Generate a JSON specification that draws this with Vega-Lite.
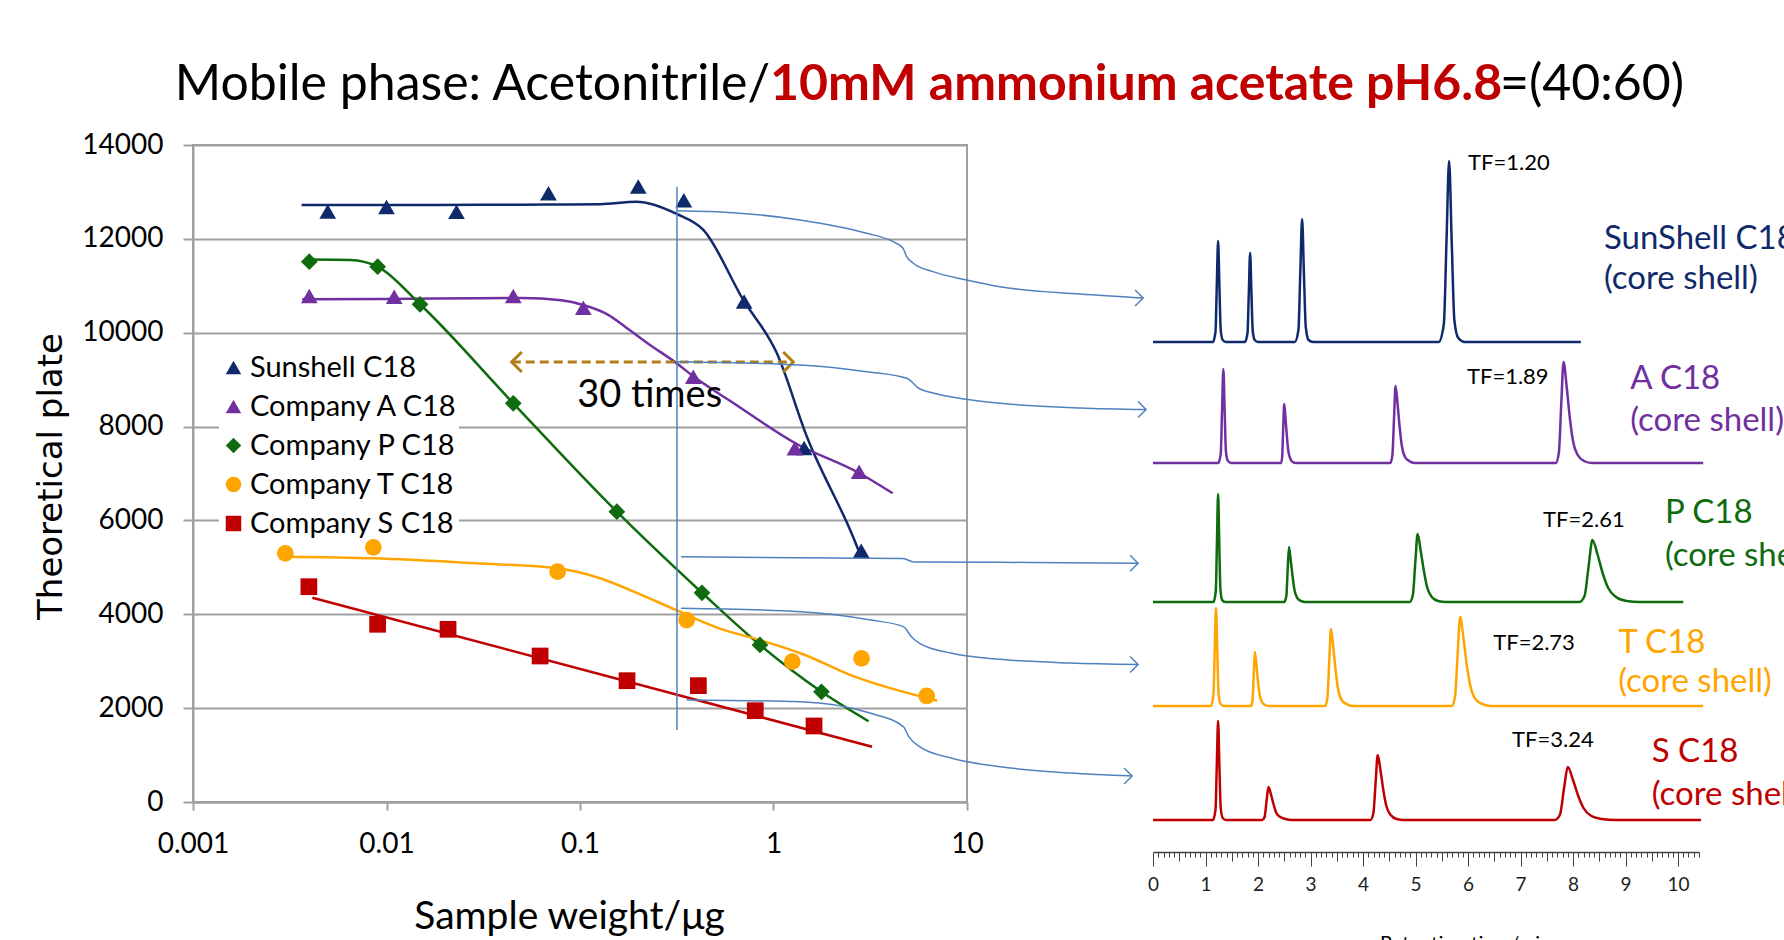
{
"$schema":"https://vega.github.io/schema/vega-lite/v6.json",
"width":774,"height":657,
"autosize":{"type":"none"},
"padding":{"left":193,"top":145,"right":817,"bottom":138},
"background":"white",
"config":{"view":{"stroke":"#a0a0a0","strokeWidth":2},"font":"Lato"},
"datasets":{
"pts":[
{"series":"Sunshell C18","w":0.00497,"n":12581},{"series":"Sunshell C18","w":0.01,"n":12677},{"series":"Sunshell C18","w":0.023,"n":12580},{"series":"Sunshell C18","w":0.0687,"n":12970},{"series":"Sunshell C18","w":0.2,"n":13114},{"series":"Sunshell C18","w":0.344,"n":12822},{"series":"Sunshell C18","w":0.705,"n":10666},{"series":"Sunshell C18","w":1.44,"n":7544},{"series":"Sunshell C18","w":2.84,"n":5355},
{"series":"Company A C18","w":0.00399,"n":10783},{"series":"Company A C18","w":0.01096,"n":10768},{"series":"Company A C18","w":0.0452,"n":10783},{"series":"Company A C18","w":0.104,"n":10534},{"series":"Company A C18","w":0.385,"n":9063},{"series":"Company A C18","w":1.29,"n":7537},{"series":"Company A C18","w":2.77,"n":7039},
{"series":"Company P C18","w":0.00399,"n":11514},{"series":"Company P C18","w":0.009,"n":11407},{"series":"Company P C18","w":0.0149,"n":10606},{"series":"Company P C18","w":0.0452,"n":8496},{"series":"Company P C18","w":0.155,"n":6186},{"series":"Company P C18","w":0.427,"n":4458},{"series":"Company P C18","w":0.851,"n":3346},{"series":"Company P C18","w":1.77,"n":2348},
{"series":"Company T C18","w":0.003,"n":5299},{"series":"Company T C18","w":0.00855,"n":5427},{"series":"Company T C18","w":0.0766,"n":4908},{"series":"Company T C18","w":0.356,"n":3878},{"series":"Company T C18","w":1.25,"n":2990},{"series":"Company T C18","w":2.85,"n":3062},{"series":"Company T C18","w":6.19,"n":2259},
{"series":"Company S C18","w":0.00397,"n":4588},{"series":"Company S C18","w":0.009,"n":3787},{"series":"Company S C18","w":0.0208,"n":3680},{"series":"Company S C18","w":0.0622,"n":3111},{"series":"Company S C18","w":0.175,"n":2585},{"series":"Company S C18","w":0.409,"n":2479},{"series":"Company S C18","w":0.805,"n":1946},{"series":"Company S C18","w":1.62,"n":1620}
],
"fits":[
{"series":"Sunshell C18","w":0.00364,"n":12720},{"series":"Sunshell C18","w":0.01,"n":12720},{"series":"Sunshell C18","w":0.03,"n":12725},{"series":"Sunshell C18","w":0.07,"n":12730},{"series":"Sunshell C18","w":0.127,"n":12740},{"series":"Sunshell C18","w":0.196,"n":12790},{"series":"Sunshell C18","w":0.316,"n":12530},{"series":"Sunshell C18","w":0.434,"n":12190},{"series":"Sunshell C18","w":0.698,"n":10698},{"series":"Sunshell C18","w":1.04,"n":9568},{"series":"Sunshell C18","w":1.49,"n":7778},{"series":"Sunshell C18","w":2.58,"n":5647},{"series":"Sunshell C18","w":2.84,"n":5221},
{"series":"Company A C18","w":0.00367,"n":10713},{"series":"Company A C18","w":0.01,"n":10720},{"series":"Company A C18","w":0.03,"n":10735},{"series":"Company A C18","w":0.05,"n":10740},{"series":"Company A C18","w":0.08,"n":10690},{"series":"Company A C18","w":0.104,"n":10590},{"series":"Company A C18","w":0.14,"n":10380},{"series":"Company A C18","w":0.171,"n":10129},{"series":"Company A C18","w":0.23,"n":9740},{"series":"Company A C18","w":0.316,"n":9348},{"series":"Company A C18","w":0.385,"n":9070},{"series":"Company A C18","w":0.62,"n":8503},{"series":"Company A C18","w":1.29,"n":7650},{"series":"Company A C18","w":2.77,"n":7010},{"series":"Company A C18","w":4.13,"n":6578},
{"series":"Company P C18","w":0.004,"n":11560},{"series":"Company P C18","w":0.0065,"n":11550},{"series":"Company P C18","w":0.009,"n":11407},{"series":"Company P C18","w":0.0149,"n":10606},{"series":"Company P C18","w":0.0452,"n":8496},{"series":"Company P C18","w":0.155,"n":6186},{"series":"Company P C18","w":0.427,"n":4458},{"series":"Company P C18","w":0.851,"n":3346},{"series":"Company P C18","w":1.77,"n":2348},{"series":"Company P C18","w":3.1,"n":1720},
{"series":"Company T C18","w":0.003,"n":5228},{"series":"Company T C18","w":0.00855,"n":5193},{"series":"Company T C18","w":0.0287,"n":5087},{"series":"Company T C18","w":0.0766,"n":4980},{"series":"Company T C18","w":0.127,"n":4767},{"series":"Company T C18","w":0.199,"n":4447},{"series":"Company T C18","w":0.313,"n":4092},{"series":"Company T C18","w":0.524,"n":3701},{"series":"Company T C18","w":0.85,"n":3452},{"series":"Company T C18","w":1.38,"n":3169},{"series":"Company T C18","w":2.63,"n":2670},{"series":"Company T C18","w":7.0,"n":2159},
{"series":"Company S C18","w":0.00414,"n":4354},{"series":"Company S C18","w":3.23,"n":1179}
],
"conn":[
{"id":1,"w":0.316,"n":12600},{"id":1,"w":0.618,"n":12558},{"id":1,"w":1.37,"n":12403},{"id":1,"w":3.03,"n":12119},{"id":1,"w":4.15,"n":11940},{"id":1,"w":4.67,"n":11799},{"id":1,"w":4.88,"n":11620},{"id":1,"w":5.26,"n":11486},{"id":1,"w":6.67,"n":11301},{"id":1,"w":9.95,"n":11124},{"id":1,"w":14.8,"n":10981},{"id":1,"w":38.4,"n":10825},{"id":1,"w":81.3,"n":10740},
{"id":2,"w":0.316,"n":9383},{"id":2,"w":1.37,"n":9312},{"id":2,"w":3.03,"n":9170},{"id":2,"w":4.88,"n":9029},{"id":2,"w":5.39,"n":8886},{"id":2,"w":5.59,"n":8822},{"id":2,"w":6.67,"n":8716},{"id":2,"w":9.95,"n":8582},{"id":2,"w":14.8,"n":8496},{"id":2,"w":38.4,"n":8396},{"id":2,"w":84.2,"n":8362},
{"id":3,"w":0.333,"n":5227},{"id":3,"w":4.67,"n":5187},{"id":3,"w":5.32,"n":5114},{"id":3,"w":14.8,"n":5108},{"id":3,"w":76.6,"n":5089},
{"id":4,"w":0.333,"n":4128},{"id":4,"w":1.38,"n":4055},{"id":4,"w":3.18,"n":3878},{"id":4,"w":4.69,"n":3736},{"id":4,"w":5.16,"n":3523},{"id":4,"w":5.69,"n":3382},{"id":4,"w":8.36,"n":3169},{"id":4,"w":14.8,"n":3041},{"id":4,"w":34.0,"n":2962},{"id":4,"w":76.6,"n":2930},
{"id":5,"w":0.356,"n":2174},{"id":5,"w":1.38,"n":2137},{"id":5,"w":3.18,"n":1890},{"id":5,"w":4.69,"n":1605},{"id":5,"w":5.0,"n":1392},{"id":5,"w":5.69,"n":1179},{"id":5,"w":8.36,"n":931},{"id":5,"w":14.8,"n":752},{"id":5,"w":34.0,"n":618},{"id":5,"w":71.3,"n":554}
],
"heads":[{"w":81.3,"n":10740},{"w":84.2,"n":8362},{"w":76.6,"n":5089},{"w":76.6,"n":2930},{"w":71.3,"n":554}],
"traces":[
{"c":"N","t":0,"v":0},{"c":"N","t":1.14,"v":0},{"c":"N","t":1.19,"v":10},{"c":"N","t":1.215,"v":56},{"c":"N","t":1.24,"v":101},{"c":"N","t":1.265,"v":56},{"c":"N","t":1.29,"v":12},{"c":"N","t":1.328,"v":2},{"c":"N","t":1.39,"v":0},{"c":"N","t":1.75,"v":0},{"c":"N","t":1.8,"v":9},{"c":"N","t":1.825,"v":49},{"c":"N","t":1.85,"v":89},{"c":"N","t":1.875,"v":49},{"c":"N","t":1.9,"v":11},{"c":"N","t":1.938,"v":2},{"c":"N","t":2.0,"v":0},{"c":"N","t":2.7,"v":0},{"c":"N","t":2.77,"v":12},{"c":"N","t":2.805,"v":68},{"c":"N","t":2.84,"v":123},{"c":"N","t":2.875,"v":68},{"c":"N","t":2.91,"v":15},{"c":"N","t":2.963,"v":2},{"c":"N","t":3.05,"v":0},{"c":"N","t":5.44,"v":0},{"c":"N","t":5.54,"v":18},{"c":"N","t":5.59,"v":100},{"c":"N","t":5.64,"v":181},{"c":"N","t":5.69,"v":100},{"c":"N","t":5.74,"v":22},{"c":"N","t":5.815,"v":4},{"c":"N","t":5.94,"v":0},{"c":"N","t":8.15,"v":0},
{"c":"A","t":0,"v":0},{"c":"A","t":1.24,"v":0},{"c":"A","t":1.29,"v":9},{"c":"A","t":1.315,"v":52},{"c":"A","t":1.34,"v":94},{"c":"A","t":1.365,"v":52},{"c":"A","t":1.39,"v":11},{"c":"A","t":1.428,"v":2},{"c":"A","t":1.49,"v":0},{"c":"A","t":2.44,"v":0},{"c":"A","t":2.46,"v":6},{"c":"A","t":2.48,"v":35},{"c":"A","t":2.5,"v":59},{"c":"A","t":2.525,"v":44},{"c":"A","t":2.55,"v":27},{"c":"A","t":2.575,"v":13},{"c":"A","t":2.61,"v":5},{"c":"A","t":2.66,"v":1},{"c":"A","t":2.725,"v":0},{"c":"A","t":4.52,"v":0},{"c":"A","t":4.56,"v":8},{"c":"A","t":4.592,"v":46},{"c":"A","t":4.62,"v":77},{"c":"A","t":4.66,"v":58},{"c":"A","t":4.7,"v":35},{"c":"A","t":4.74,"v":17},{"c":"A","t":4.8,"v":6},{"c":"A","t":4.88,"v":2},{"c":"A","t":4.98,"v":0},{"c":"A","t":7.67,"v":0},{"c":"A","t":7.73,"v":10},{"c":"A","t":7.778,"v":61},{"c":"A","t":7.82,"v":101},{"c":"A","t":7.88,"v":76},{"c":"A","t":7.94,"v":45},{"c":"A","t":8.0,"v":22},{"c":"A","t":8.09,"v":8},{"c":"A","t":8.21,"v":2},{"c":"A","t":8.36,"v":0},{"c":"A","t":10.48,"v":0},
{"c":"P","t":0,"v":0},{"c":"P","t":1.152,"v":0},{"c":"P","t":1.196,"v":11},{"c":"P","t":1.218,"v":59},{"c":"P","t":1.24,"v":108},{"c":"P","t":1.262,"v":59},{"c":"P","t":1.284,"v":13},{"c":"P","t":1.317,"v":2},{"c":"P","t":1.372,"v":0},{"c":"P","t":2.5,"v":0},{"c":"P","t":2.54,"v":6},{"c":"P","t":2.566,"v":33},{"c":"P","t":2.59,"v":55},{"c":"P","t":2.625,"v":41},{"c":"P","t":2.66,"v":25},{"c":"P","t":2.695,"v":12},{"c":"P","t":2.748,"v":4},{"c":"P","t":2.818,"v":1},{"c":"P","t":2.905,"v":0},{"c":"P","t":4.89,"v":0},{"c":"P","t":4.95,"v":7},{"c":"P","t":4.998,"v":41},{"c":"P","t":5.04,"v":68},{"c":"P","t":5.1,"v":51},{"c":"P","t":5.16,"v":31},{"c":"P","t":5.22,"v":15},{"c":"P","t":5.31,"v":5},{"c":"P","t":5.43,"v":1},{"c":"P","t":5.58,"v":0},{"c":"P","t":8.12,"v":0},{"c":"P","t":8.22,"v":6},{"c":"P","t":8.3,"v":37},{"c":"P","t":8.37,"v":62},{"c":"P","t":8.47,"v":47},{"c":"P","t":8.57,"v":28},{"c":"P","t":8.67,"v":14},{"c":"P","t":8.82,"v":5},{"c":"P","t":9.02,"v":1},{"c":"P","t":9.27,"v":0},{"c":"P","t":10.1,"v":0},
{"c":"T","t":0,"v":0},{"c":"T","t":1.1,"v":0},{"c":"T","t":1.15,"v":10},{"c":"T","t":1.175,"v":54},{"c":"T","t":1.2,"v":98},{"c":"T","t":1.225,"v":54},{"c":"T","t":1.25,"v":12},{"c":"T","t":1.288,"v":2},{"c":"T","t":1.35,"v":0},{"c":"T","t":1.865,"v":0},{"c":"T","t":1.895,"v":5},{"c":"T","t":1.919,"v":32},{"c":"T","t":1.94,"v":54},{"c":"T","t":1.97,"v":41},{"c":"T","t":2.0,"v":24},{"c":"T","t":2.03,"v":12},{"c":"T","t":2.075,"v":4},{"c":"T","t":2.135,"v":1},{"c":"T","t":2.21,"v":0},{"c":"T","t":3.278,"v":0},{"c":"T","t":3.322,"v":8},{"c":"T","t":3.358,"v":46},{"c":"T","t":3.39,"v":77},{"c":"T","t":3.435,"v":58},{"c":"T","t":3.48,"v":35},{"c":"T","t":3.525,"v":17},{"c":"T","t":3.592,"v":6},{"c":"T","t":3.682,"v":2},{"c":"T","t":3.795,"v":0},{"c":"T","t":5.688,"v":0},{"c":"T","t":5.752,"v":9},{"c":"T","t":5.804,"v":53},{"c":"T","t":5.85,"v":89},{"c":"T","t":5.915,"v":67},{"c":"T","t":5.98,"v":40},{"c":"T","t":6.045,"v":20},{"c":"T","t":6.142,"v":7},{"c":"T","t":6.272,"v":2},{"c":"T","t":6.435,"v":0},{"c":"T","t":10.48,"v":0},
{"c":"S","t":0,"v":0},{"c":"S","t":1.14,"v":0},{"c":"S","t":1.19,"v":10},{"c":"S","t":1.215,"v":54},{"c":"S","t":1.24,"v":99},{"c":"S","t":1.265,"v":54},{"c":"S","t":1.29,"v":12},{"c":"S","t":1.328,"v":2},{"c":"S","t":1.39,"v":0},{"c":"S","t":2.075,"v":0},{"c":"S","t":2.125,"v":3},{"c":"S","t":2.165,"v":20},{"c":"S","t":2.2,"v":33},{"c":"S","t":2.25,"v":25},{"c":"S","t":2.3,"v":15},{"c":"S","t":2.35,"v":7},{"c":"S","t":2.425,"v":3},{"c":"S","t":2.525,"v":1},{"c":"S","t":2.65,"v":0},{"c":"S","t":4.142,"v":0},{"c":"S","t":4.198,"v":7},{"c":"S","t":4.242,"v":39},{"c":"S","t":4.28,"v":65},{"c":"S","t":4.335,"v":49},{"c":"S","t":4.39,"v":29},{"c":"S","t":4.445,"v":14},{"c":"S","t":4.528,"v":5},{"c":"S","t":4.638,"v":1},{"c":"S","t":4.775,"v":0},{"c":"S","t":7.65,"v":0},{"c":"S","t":7.75,"v":5},{"c":"S","t":7.83,"v":32},{"c":"S","t":7.9,"v":53},{"c":"S","t":8.0,"v":40},{"c":"S","t":8.1,"v":24},{"c":"S","t":8.2,"v":12},{"c":"S","t":8.35,"v":4},{"c":"S","t":8.55,"v":1},{"c":"S","t":8.8,"v":0},{"c":"S","t":10.44,"v":0}
],
"tlab":[
{"c":"N","k":"tf","t":6.0,"v":179,"text":"TF=1.20"},{"c":"N","k":"name","t":8.59,"v":103,"text":"SunShell C18"},{"c":"N","k":"name","t":8.59,"v":63,"text":"(core shell)"},
{"c":"A","k":"tf","t":5.98,"v":86,"text":"TF=1.89"},{"c":"A","k":"name","t":9.09,"v":84,"text":"A C18"},{"c":"A","k":"name","t":9.09,"v":42,"text":"(core shell)"},
{"c":"P","k":"tf","t":7.43,"v":82,"text":"TF=2.61"},{"c":"P","k":"name","t":9.75,"v":89,"text":"P C18"},{"c":"P","k":"name","t":9.75,"v":46,"text":"(core shell)"},
{"c":"T","k":"tf","t":6.48,"v":63,"text":"TF=2.73"},{"c":"T","k":"name","t":8.86,"v":63,"text":"T C18"},{"c":"T","k":"name","t":8.86,"v":24,"text":"(core shell)"},
{"c":"S","k":"tf","t":6.84,"v":80,"text":"TF=3.24"},{"c":"S","k":"name","t":9.5,"v":68,"text":"S C18"},{"c":"S","k":"name","t":9.5,"v":25,"text":"(core shell)"}
]
},
"layer":[
 {"data":{"name":"fits"},
  "mark":{"type":"line","interpolate":"monotone","strokeWidth":2.5},
  "encoding":{
   "x":{"field":"w","type":"quantitative","scale":{"type":"log","domain":[0.001,10],"nice":false},
        "axis":{"orient":"bottom","values":[0.001,0.01,0.1,1,10],"format":"~g","labelFlush":false,"labelOverlap":false,"grid":false,"domainColor":"#a0a0a0","domainWidth":2,"tickColor":"#a0a0a0","tickWidth":2,"tickSize":8,"labelFont":"Lato","labelFontSize":28,"labelColor":"#000","labelPadding":20,
                "title":"Sample weight/μg","titleFont":"Lato","titleFontSize":39,"titleFontWeight":"normal","titleColor":"#000","titleX":376,"titleY":114,"titleAlign":"center","titleBaseline":"middle"}},
   "y":{"field":"n","type":"quantitative","scale":{"domain":[0,14000],"nice":false,"zero":false},
        "axis":{"orient":"left","values":[0,2000,4000,6000,8000,10000,12000,14000],"format":"d","labelFlush":false,"grid":true,"gridColor":"#a0a0a0","gridWidth":2,"domainColor":"#a0a0a0","domainWidth":2,"tickColor":"#a0a0a0","tickWidth":2,"tickSize":10,"labelFont":"Lato","labelFontSize":28,"labelColor":"#000","labelPadding":20,
                "title":"Theoretical plate","titleFont":"DejaVu Sans","titleFontSize":34,"titleFontWeight":"normal","titleColor":"#000","titleAngle":270,"titleX":-142,"titleY":331,"titleAlign":"center","titleBaseline":"middle"}},
   "stroke":{"field":"series","type":"nominal","scale":{"domain":["Company S C18","Company T C18","Company P C18","Company A C18","Sunshell C18"],"range":["#c00000","#ffa500","#0e6b0e","#7030a0","#0f2a6b"]},"legend":null}
  }},
 {"data":{"name":"pts"},
  "mark":{"type":"point","filled":true,"size":280,"opacity":1},
  "encoding":{
   "x":{"field":"w","type":"quantitative","scale":{"type":"log","domain":[0.001,10],"nice":false},"axis":null},
   "y":{"field":"n","type":"quantitative","scale":{"domain":[0,14000],"nice":false,"zero":false},"axis":null},
   "color":{"field":"series","type":"nominal","scale":{"domain":["Sunshell C18","Company A C18","Company P C18","Company T C18","Company S C18"],"range":["#0f2a6b","#7030a0","#0e6b0e","#ffa500","#c00000"]},
            "legend":{"orient":"none","legendX":26,"legendY":208,"zindex":0,"title":null,"fillColor":"white","padding":0,"labelFont":"Lato","labelFontSize":29,"labelColor":"#000","labelLimit":400,"symbolSize":240,"rowPadding":9,"labelOffset":2}},
   "shape":{"field":"series","type":"nominal","scale":{"domain":["Sunshell C18","Company A C18","Company P C18","Company T C18","Company S C18"],"range":["triangle-up","triangle-up","diamond","circle","square"]},
            "legend":{"orient":"none","legendX":26,"legendY":208,"zindex":0,"title":null,"fillColor":"white","padding":0,"labelFont":"Lato","labelFontSize":29,"labelColor":"#000","labelLimit":400,"symbolSize":240,"rowPadding":9,"labelOffset":2}}
  }},
 {"data":{"values":[{"w":0.317,"n":1534,"n2":13112}]},
  "mark":{"type":"rule","color":"#4f81bd","strokeWidth":1.5},
  "encoding":{"x":{"field":"w","type":"quantitative","scale":{"type":"log","domain":[0.001,10],"nice":false},"axis":null},"y":{"field":"n","type":"quantitative","scale":{"domain":[0,14000],"nice":false,"zero":false},"axis":null},"y2":{"field":"n2"}}},
 {"data":{"values":[{"w":0.0444,"w2":1.265,"n":9376}]},
  "mark":{"type":"rule","color":"#b07d16","strokeWidth":3,"strokeDash":[9,5]},
  "encoding":{"x":{"field":"w","type":"quantitative","scale":{"type":"log","domain":[0.001,10],"nice":false},"axis":null},"x2":{"field":"w2"},"y":{"field":"n","type":"quantitative","scale":{"domain":[0,14000],"nice":false,"zero":false},"axis":null}}},
 {"data":{"values":[{"w":0.0444,"n":9376}]},
  "mark":{"type":"point","shape":"M1,-1L0,0L1,1","filled":false,"color":"#b07d16","strokeWidth":3,"size":400,"opacity":1},
  "encoding":{"x":{"field":"w","type":"quantitative","scale":{"type":"log","domain":[0.001,10],"nice":false},"axis":null},"y":{"field":"n","type":"quantitative","scale":{"domain":[0,14000],"nice":false,"zero":false},"axis":null}}},
 {"data":{"values":[{"w":1.265,"n":9376}]},
  "mark":{"type":"point","shape":"M-1,-1L0,0L-1,1","filled":false,"color":"#b07d16","strokeWidth":3,"size":400,"opacity":1},
  "encoding":{"x":{"field":"w","type":"quantitative","scale":{"type":"log","domain":[0.001,10],"nice":false},"axis":null},"y":{"field":"n","type":"quantitative","scale":{"domain":[0,14000],"nice":false,"zero":false},"axis":null}}},
 {"data":{"values":[{"w":0.229,"n":8650,"label":"30 times"}]},
  "mark":{"type":"text","font":"Lato","fontSize":38,"color":"#000","align":"center","baseline":"middle"},
  "encoding":{"x":{"field":"w","type":"quantitative","scale":{"type":"log","domain":[0.001,10],"nice":false},"axis":null},"y":{"field":"n","type":"quantitative","scale":{"domain":[0,14000],"nice":false,"zero":false},"axis":null},"text":{"field":"label"}}},
 {"data":{"name":"conn"},
  "mark":{"type":"line","color":"#4f81bd","strokeWidth":1.5,"interpolate":"monotone","clip":false},
  "encoding":{"x":{"field":"w","type":"quantitative","scale":{"type":"log","domain":[0.001,10],"nice":false},"axis":null},"y":{"field":"n","type":"quantitative","scale":{"domain":[0,14000],"nice":false,"zero":false},"axis":null},"detail":{"field":"id"}}},
 {"data":{"name":"heads"},
  "mark":{"type":"point","shape":"M-1,-1L0,0L-1,1","filled":false,"color":"#4f81bd","strokeWidth":1.5,"size":256,"opacity":1,"clip":false},
  "encoding":{"x":{"field":"w","type":"quantitative","scale":{"type":"log","domain":[0.001,10],"nice":false},"axis":null},"y":{"field":"n","type":"quantitative","scale":{"domain":[0,14000],"nice":false,"zero":false},"axis":null}}},
 {"data":{"values":[{"w":0.9592,"n":15280,"label":"Mobile phase: Acetonitrile/"}]},
  "mark":{"type":"text","font":"Lato","fontSize":50,"color":"#000","align":"right","baseline":"middle","clip":false},
  "encoding":{"x":{"field":"w","type":"quantitative","scale":{"type":"log","domain":[0.001,10],"nice":false},"axis":null},"y":{"field":"n","type":"quantitative","scale":{"domain":[0,14000],"nice":false,"zero":false},"axis":null},"text":{"field":"label"}}},
 {"data":{"values":[{"w":0.9592,"n":15280,"label":"10mM ammonium acetate pH6.8"}]},
  "mark":{"type":"text","font":"Lato","fontSize":50,"fontWeight":"bold","color":"#c00000","align":"left","baseline":"middle","clip":false},
  "encoding":{"x":{"field":"w","type":"quantitative","scale":{"type":"log","domain":[0.001,10],"nice":false},"axis":null},"y":{"field":"n","type":"quantitative","scale":{"domain":[0,14000],"nice":false,"zero":false},"axis":null},"text":{"field":"label"}}},
 {"data":{"values":[{"w":5675,"n":15280,"label":"=(40:60)"}]},
  "mark":{"type":"text","font":"Lato","fontSize":50,"color":"#000","align":"left","baseline":"middle","clip":false},
  "encoding":{"x":{"field":"w","type":"quantitative","scale":{"type":"log","domain":[0.001,10],"nice":false},"axis":null},"y":{"field":"n","type":"quantitative","scale":{"domain":[0,14000],"nice":false,"zero":false},"axis":null},"text":{"field":"label"}}},

 {"data":{"name":"traces"},"transform":[{"filter":"datum.c==='N'"}],
  "mark":{"type":"line","color":"#0f2a6b","strokeWidth":2.5,"interpolate":"monotone","clip":false},
  "encoding":{"x":{"field":"t","type":"quantitative","scale":{"domain":[0,10.4],"range":[960,1506],"nice":false,"zero":false},"axis":null},
              "y":{"field":"v","type":"quantitative","scale":{"domain":[0,200],"range":[197,-3],"nice":false,"zero":false},"axis":null}}},
 {"data":{"name":"tlab"},"transform":[{"filter":"datum.c==='N' && datum.k==='tf'"}],
  "mark":{"type":"text","align":"left","baseline":"middle","font":"Lato","fontSize":22,"color":"#000","clip":false},
  "encoding":{"x":{"field":"t","type":"quantitative","scale":{"domain":[0,10.4],"range":[960,1506],"nice":false,"zero":false},"axis":null},"y":{"field":"v","type":"quantitative","scale":{"domain":[0,200],"range":[197,-3],"nice":false,"zero":false},"axis":null},"text":{"field":"text"}}},
 {"data":{"name":"tlab"},"transform":[{"filter":"datum.c==='N' && datum.k==='name'"}],
  "mark":{"type":"text","align":"left","baseline":"middle","font":"Lato","fontSize":33,"color":"#0f2a6b","clip":false},
  "encoding":{"x":{"field":"t","type":"quantitative","scale":{"domain":[0,10.4],"range":[960,1506],"nice":false,"zero":false},"axis":null},"y":{"field":"v","type":"quantitative","scale":{"domain":[0,200],"range":[197,-3],"nice":false,"zero":false},"axis":null},"text":{"field":"text"}}},

 {"data":{"name":"traces"},"transform":[{"filter":"datum.c==='A'"}],
  "mark":{"type":"line","color":"#7030a0","strokeWidth":2.5,"interpolate":"monotone","clip":false},
  "encoding":{"x":{"field":"t","type":"quantitative","scale":{"domain":[0,10.4],"range":[960,1506],"nice":false,"zero":false},"axis":null},
              "y":{"field":"v","type":"quantitative","scale":{"domain":[0,200],"range":[318,118],"nice":false,"zero":false},"axis":null}}},
 {"data":{"name":"tlab"},"transform":[{"filter":"datum.c==='A' && datum.k==='tf'"}],
  "mark":{"type":"text","align":"left","baseline":"middle","font":"Lato","fontSize":22,"color":"#000","clip":false},
  "encoding":{"x":{"field":"t","type":"quantitative","scale":{"domain":[0,10.4],"range":[960,1506],"nice":false,"zero":false},"axis":null},"y":{"field":"v","type":"quantitative","scale":{"domain":[0,200],"range":[318,118],"nice":false,"zero":false},"axis":null},"text":{"field":"text"}}},
 {"data":{"name":"tlab"},"transform":[{"filter":"datum.c==='A' && datum.k==='name'"}],
  "mark":{"type":"text","align":"left","baseline":"middle","font":"Lato","fontSize":33,"color":"#7030a0","clip":false},
  "encoding":{"x":{"field":"t","type":"quantitative","scale":{"domain":[0,10.4],"range":[960,1506],"nice":false,"zero":false},"axis":null},"y":{"field":"v","type":"quantitative","scale":{"domain":[0,200],"range":[318,118],"nice":false,"zero":false},"axis":null},"text":{"field":"text"}}},

 {"data":{"name":"traces"},"transform":[{"filter":"datum.c==='P'"}],
  "mark":{"type":"line","color":"#0e6b0e","strokeWidth":2.5,"interpolate":"monotone","clip":false},
  "encoding":{"x":{"field":"t","type":"quantitative","scale":{"domain":[0,10.4],"range":[960,1506],"nice":false,"zero":false},"axis":null},
              "y":{"field":"v","type":"quantitative","scale":{"domain":[0,200],"range":[457,257],"nice":false,"zero":false},"axis":null}}},
 {"data":{"name":"tlab"},"transform":[{"filter":"datum.c==='P' && datum.k==='tf'"}],
  "mark":{"type":"text","align":"left","baseline":"middle","font":"Lato","fontSize":22,"color":"#000","clip":false},
  "encoding":{"x":{"field":"t","type":"quantitative","scale":{"domain":[0,10.4],"range":[960,1506],"nice":false,"zero":false},"axis":null},"y":{"field":"v","type":"quantitative","scale":{"domain":[0,200],"range":[457,257],"nice":false,"zero":false},"axis":null},"text":{"field":"text"}}},
 {"data":{"name":"tlab"},"transform":[{"filter":"datum.c==='P' && datum.k==='name'"}],
  "mark":{"type":"text","align":"left","baseline":"middle","font":"Lato","fontSize":33,"color":"#0e6b0e","clip":false},
  "encoding":{"x":{"field":"t","type":"quantitative","scale":{"domain":[0,10.4],"range":[960,1506],"nice":false,"zero":false},"axis":null},"y":{"field":"v","type":"quantitative","scale":{"domain":[0,200],"range":[457,257],"nice":false,"zero":false},"axis":null},"text":{"field":"text"}}},

 {"data":{"name":"traces"},"transform":[{"filter":"datum.c==='T'"}],
  "mark":{"type":"line","color":"#ffa500","strokeWidth":2.5,"interpolate":"monotone","clip":false},
  "encoding":{"x":{"field":"t","type":"quantitative","scale":{"domain":[0,10.4],"range":[960,1506],"nice":false,"zero":false},"axis":null},
              "y":{"field":"v","type":"quantitative","scale":{"domain":[0,200],"range":[561,361],"nice":false,"zero":false},"axis":null}}},
 {"data":{"name":"tlab"},"transform":[{"filter":"datum.c==='T' && datum.k==='tf'"}],
  "mark":{"type":"text","align":"left","baseline":"middle","font":"Lato","fontSize":22,"color":"#000","clip":false},
  "encoding":{"x":{"field":"t","type":"quantitative","scale":{"domain":[0,10.4],"range":[960,1506],"nice":false,"zero":false},"axis":null},"y":{"field":"v","type":"quantitative","scale":{"domain":[0,200],"range":[561,361],"nice":false,"zero":false},"axis":null},"text":{"field":"text"}}},
 {"data":{"name":"tlab"},"transform":[{"filter":"datum.c==='T' && datum.k==='name'"}],
  "mark":{"type":"text","align":"left","baseline":"middle","font":"Lato","fontSize":33,"color":"#ffa500","clip":false},
  "encoding":{"x":{"field":"t","type":"quantitative","scale":{"domain":[0,10.4],"range":[960,1506],"nice":false,"zero":false},"axis":null},"y":{"field":"v","type":"quantitative","scale":{"domain":[0,200],"range":[561,361],"nice":false,"zero":false},"axis":null},"text":{"field":"text"}}},

 {"data":{"name":"traces"},"transform":[{"filter":"datum.c==='S'"}],
  "mark":{"type":"line","color":"#c00000","strokeWidth":2.5,"interpolate":"monotone","clip":false},
  "encoding":{"x":{"field":"t","type":"quantitative","scale":{"domain":[0,10.4],"range":[960,1506],"nice":false,"zero":false},
                   "axis":{"orient":"bottom","offset":50,"values":[0,1,2,3,4,5,6,7,8,9,10],"format":"d","labelFlush":false,"grid":false,"tickSize":14,"tickWidth":1,"tickColor":"#404040","domainColor":"#404040","domainWidth":1.5,"labelFont":"Lato","labelFontSize":19,"labelColor":"#222","labelPadding":9,
                           "title":"Retention time/min","titleFont":"Lato","titleFontSize":20,"titleFontWeight":"normal","titleColor":"#000","titleX":1272,"titleY":81,"titleAlign":"center","titleBaseline":"top"}},
              "y":{"field":"v","type":"quantitative","scale":{"domain":[0,200],"range":[675,475],"nice":false,"zero":false},"axis":null}}},
 {"data":{"name":"tlab"},"transform":[{"filter":"datum.c==='S' && datum.k==='tf'"}],
  "mark":{"type":"text","align":"left","baseline":"middle","font":"Lato","fontSize":22,"color":"#000","clip":false},
  "encoding":{"x":{"field":"t","type":"quantitative","scale":{"domain":[0,10.4],"range":[960,1506],"nice":false,"zero":false},"axis":null},"y":{"field":"v","type":"quantitative","scale":{"domain":[0,200],"range":[675,475],"nice":false,"zero":false},"axis":null},"text":{"field":"text"}}},
 {"data":{"name":"tlab"},"transform":[{"filter":"datum.c==='S' && datum.k==='name'"}],
  "mark":{"type":"text","align":"left","baseline":"middle","font":"Lato","fontSize":33,"color":"#c00000","clip":false},
  "encoding":{"x":{"field":"t","type":"quantitative","scale":{"domain":[0,10.4],"range":[960,1506],"nice":false,"zero":false},"axis":null},"y":{"field":"v","type":"quantitative","scale":{"domain":[0,200],"range":[675,475],"nice":false,"zero":false},"axis":null},"text":{"field":"text"}}},

 {"data":{"name":"traces"},
  "mark":{"type":"point","opacity":0},
  "encoding":{"x":{"field":"t","type":"quantitative","scale":{"domain":[0,10.4],"range":[960,1506],"nice":false,"zero":false},
    "axis":{"orient":"bottom","offset":50,"values":[0.1,0.2,0.3,0.4,0.6,0.7,0.8,0.9,1.1,1.2,1.3,1.4,1.6,1.7,1.8,1.9,2.1,2.2,2.3,2.4,2.6,2.7,2.8,2.9,3.1,3.2,3.3,3.4,3.6,3.7,3.8,3.9,4.1,4.2,4.3,4.4,4.6,4.7,4.8,4.9,5.1,5.2,5.3,5.4,5.6,5.7,5.8,5.9,6.1,6.2,6.3,6.4,6.6,6.7,6.8,6.9,7.1,7.2,7.3,7.4,7.6,7.7,7.8,7.9,8.1,8.2,8.3,8.4,8.6,8.7,8.8,8.9,9.1,9.2,9.3,9.4,9.6,9.7,9.8,9.9,10.1,10.2,10.3,10.4],
      "tickSize":5,"tickWidth":1,"tickColor":"#404040","labels":false,"domain":false,"grid":false,"title":null}}}},
 {"data":{"name":"traces"},
  "mark":{"type":"point","opacity":0},
  "encoding":{"x":{"field":"t","type":"quantitative","scale":{"domain":[0,10.4],"range":[960,1506],"nice":false,"zero":false},
    "axis":{"orient":"bottom","offset":50,"values":[0.5,1.5,2.5,3.5,4.5,5.5,6.5,7.5,8.5,9.5],
      "tickSize":9,"tickWidth":1,"tickColor":"#404040","labels":false,"domain":false,"grid":false,"title":null}}}}
],
"resolve":{"scale":{"x":"independent","y":"independent"}}
}
